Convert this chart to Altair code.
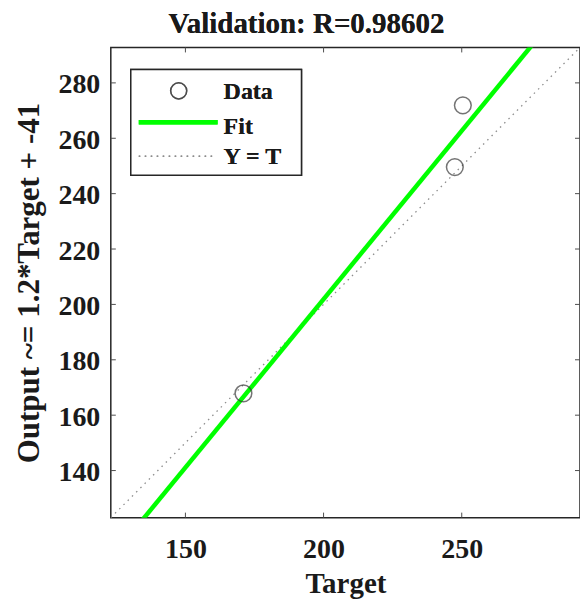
import altair as alt
import pandas as pd

# Validation samples: target vs. network output
targets = [171.0, 247.5, 250.4]
outputs = [167.9, 249.6, 271.9]

# Linear fit of output on target, and correlation coefficient
FIT_SLOPE = 1.216
FIT_INTERCEPT = -41.3
R_VALUE = 0.98602

# Shared axis limits and tick values
AX_LIMITS = [123.0, 292.8]
X_TICKS = [150, 200, 250]
Y_TICKS = [140, 160, 180, 200, 220, 240, 260, 280]

W, H = 470, 471
FONT = "Liberation Serif"
INK = "#1a1a1a"

points_df = pd.DataFrame({"Target": targets, "Output": outputs})
span_df = pd.DataFrame({"Target": AX_LIMITS})
xticks_df = pd.DataFrame({"Target": X_TICKS})
yticks_df = pd.DataFrame({"Output": Y_TICKS})

ylabel = f"Output ~= {FIT_SLOPE:.2g}*Target + {FIT_INTERCEPT:.2g}"
title_text = f"Validation: R={R_VALUE}"

x_scale = alt.Scale(domain=AX_LIMITS, nice=False, zero=False)
y_scale = alt.Scale(domain=AX_LIMITS, nice=False, zero=False)

x_axis = alt.Axis(
    values=X_TICKS, ticks=False, domain=False, grid=False,
    labelFont=FONT, labelFontSize=28, labelFontWeight="bold", labelColor=INK,
    labelPadding=18,
    title="Target", titleFont=FONT, titleFontSize=29, titleFontWeight="bold",
    titleColor=INK, titleBaseline="alphabetic", titleY=75,
)
y_axis = alt.Axis(
    values=Y_TICKS, ticks=False, domain=False, grid=False,
    labelFont=FONT, labelFontSize=28, labelFontWeight="bold", labelColor=INK,
    labelPadding=11, labelOffset=2,
    title=ylabel, titleFont=FONT, titleFontSize=31, titleFontWeight="bold",
    titleColor=INK, titleBaseline="alphabetic", titleX=-72, titleAngle=270,
)

X = alt.X("Target:Q", scale=x_scale, axis=x_axis)
Y = alt.Y("Output:Q", scale=y_scale, axis=y_axis)

# Y = T reference line
identity = (
    alt.Chart(span_df)
    .transform_calculate(Output="datum.Target")
    .mark_line(clip=True, color="#8c8c8c", strokeWidth=1.3, strokeDash=[1.5, 4.5])
    .encode(x=X, y=Y)
)

# Fitted regression line
fit = (
    alt.Chart(span_df)
    .transform_calculate(Output=f"{FIT_SLOPE} * datum.Target + {FIT_INTERCEPT}")
    .mark_line(clip=True, color="#00ff00", strokeWidth=4.5)
    .encode(x=X, y=Y)
)

# Data circles
pts = (
    alt.Chart(points_df)
    .mark_point(shape="circle", filled=False, size=280, stroke="#3a3a3a", strokeWidth=1.5)
    .encode(x=X, y=Y)
)

# Inward tick marks on all four sides of the box
tick_color = "#4d4d4d"
xt_bottom = alt.Chart(xticks_df).mark_rule(color=tick_color).encode(
    x=X, y=alt.value(H - 5), y2=alt.value(H))
xt_top = alt.Chart(xticks_df).mark_rule(color=tick_color).encode(
    x=X, y=alt.value(0), y2=alt.value(5))
yt_left = alt.Chart(yticks_df).mark_rule(color=tick_color).encode(
    y=Y, x=alt.value(0), x2=alt.value(5))
yt_right = alt.Chart(yticks_df).mark_rule(color=tick_color).encode(
    y=Y, x=alt.value(W - 5), x2=alt.value(W))

# Legend box in the upper-left corner
legend_box = alt.Chart(span_df).mark_rect(
    fill="white", stroke="#262626", strokeWidth=1.5
).encode(x=alt.value(20), x2=alt.value(191), y=alt.value(22), y2=alt.value(128))
legend_circle = alt.Chart(span_df).mark_point(
    shape="circle", filled=False, size=260, stroke="#3a3a3a", strokeWidth=1.5
).encode(x=alt.value(68), y=alt.value(43.5))
legend_fit = alt.Chart(span_df).mark_rule(color="#00ff00", strokeWidth=4.5).encode(
    x=alt.value(28), x2=alt.value(107), y=alt.value(75))
legend_id = alt.Chart(span_df).mark_rule(
    color="#8c8c8c", strokeWidth=1.3, strokeDash=[1.5, 4.5]
).encode(x=alt.value(28), x2=alt.value(104), y=alt.value(109))

legend_text_props = dict(font=FONT, fontSize=24, fontWeight="bold", color=INK,
                         align="left", baseline="alphabetic")
legend_labels = [("Data", 51.5), ("Fit", 86.5), ("Y = T", 116.5)]
legend_texts = [
    alt.Chart(span_df).mark_text(**legend_text_props).encode(
        x=alt.value(113), y=alt.value(yy), text=alt.value(lbl))
    for lbl, yy in legend_labels
]

# Plot title above the box
title_mark = alt.Chart(span_df).mark_text(
    font=FONT, fontSize=29, fontWeight="bold", color=INK,
    align="center", baseline="alphabetic",
).encode(x=alt.value(196), y=alt.value(-14), text=alt.value(title_text))

chart = alt.layer(
    identity, fit, pts, xt_bottom, xt_top, yt_left, yt_right,
    legend_box, legend_circle, legend_fit, legend_id, *legend_texts, title_mark,
).properties(
    width=W,
    height=H,
    autosize=alt.AutoSizeParams(type="none"),
    padding={"left": 111, "top": 47, "right": 0, "bottom": 88},
).configure(
    background="white",
    view=alt.ViewConfig(stroke="#262626", strokeWidth=1.5),
)

chart.save("out.html", embed_options={"renderer": "svg", "actions": False})
